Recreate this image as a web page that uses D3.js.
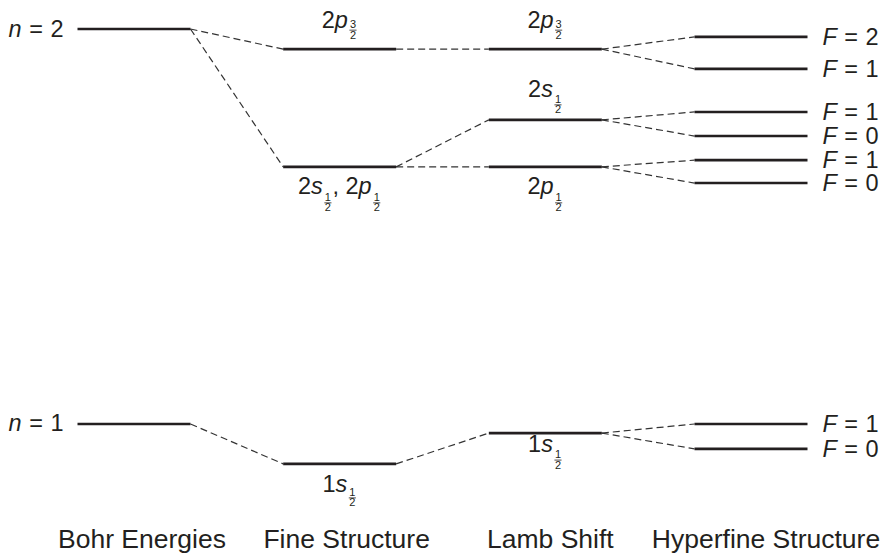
<!DOCTYPE html>
<html><head><meta charset="utf-8">
<script src="https://cdn.jsdelivr.net/npm/d3@7"></script>
<style>
body{margin:0;background:#fff}
svg{display:block}
text{font-family:"Liberation Sans",Arial,Helvetica,sans-serif;fill:#231f20}
</style>
</head><body>
<svg id="chart" width="888" height="557"></svg>
<script>
// ---------- DATA ----------
const columns = ["Bohr Energies", "Fine Structure", "Lamb Shift", "Hyperfine Structure"];
const levelNames = ["n2","n1","f2p32","f2s2p12","f1s","l2p32","l2s12","l2p12","l1s",
                    "hF2a","hF1a","hF1b","hF0b","hF1c","hF0c","hF1d","hF0d"];
const levelColumns = [0,0,1,1,1,2,2,2,2,3,3,3,3,3,3,3,3];
// relative energies (arbitrary units, n=1 Bohr = 0, n=2 Bohr = 100)
const levelEnergies = [100, 0, 94.9, 65.1, -10.1, 94.9, 77.0, 65.1, -2.3,
                       98.0, 89.9, 79.0, 72.9, 66.8, 61.0, 0, -6.3];
const levelLabels = ["n = 2","n = 1","2p_{3/2}","2s_{1/2}, 2p_{1/2}","1s_{1/2}",
                     "2p_{3/2}","2s_{1/2}","2p_{1/2}","1s_{1/2}",
                     "F = 2","F = 1","F = 1","F = 0","F = 1","F = 0","F = 1","F = 0"];
const linkFrom = [0,0,1,2,3,3,4,5,5,6,6,7,7,8,8];
const linkTo   = [2,3,4,5,6,7,8,9,10,11,12,13,14,15,16];

// ---------- LAYOUT ----------
const svg = d3.select("#chart");
const x = d3.scalePoint().domain(columns).range([134, 751]);
const y = d3.scaleLinear().domain([0, 100]).range([424, 29]);
const halfW = 56.5;
const ink = "#231f20";
const stateFont = 23.5, fracFont = 11, colFont = 26.5, opPad = 7.5;
const captionDx = [8, 7, 5, 15];

// label placement: [side, baseline offset, fraction drop]
const placement = {
  n2:["left",8,0], n1:["left",7,0],
  f2p32:["above",-21,0], f2s2p12:["below",27,7], f1s:["below",28,4],
  l2p32:["above",-21,0], l2s12:["above",-23,6], l2p12:["below",27,7], l1s:["below",19,6]
};

// dashed connectors
svg.append("g").selectAll("line").data(linkFrom.map((f,i)=>[f,linkTo[i]])).join("line")
  .attr("x1", d => x(columns[levelColumns[d[0]]]) + halfW)
  .attr("y1", d => y(levelEnergies[d[0]]))
  .attr("x2", d => x(columns[levelColumns[d[1]]]) - halfW)
  .attr("y2", d => y(levelEnergies[d[1]]))
  .attr("stroke", "#333").attr("stroke-width", 1.2).attr("stroke-dasharray", "7,4");

// levels
svg.append("g").selectAll("line").data(levelEnergies).join("line")
  .attr("x1", (d,i) => x(columns[levelColumns[i]]) - halfW)
  .attr("x2", (d,i) => x(columns[levelColumns[i]]) + halfW)
  .attr("y1", d => y(d)).attr("y2", d => y(d))
  .attr("stroke", ink).attr("stroke-width", 2.6);

// rich label parser
function tokenize(s){
  const re = /_\{(\d+)\/(\d+)\}|\s*=\s*|[A-Za-z]|[^A-Za-z_=]+/g;
  const out = []; let m;
  while ((m = re.exec(s)) !== null){
    if (m[1] !== undefined) out.push({type:"frac", num:m[1], den:m[2]});
    else if (m[0].trim() === "=") out.push({type:"op", t:"="});
    else if (/^[A-Za-z]$/.test(m[0])) out.push({type:"it", t:m[0]});
    else out.push({type:"txt", t:m[0].replace(/ /g, "\u00A0")});
  }
  return out;
}
function renderLabel(parent, str, fracDrop){
  const g = parent.append("g");
  let cx = 0;
  tokenize(str).forEach(tk => {
    if (tk.type === "frac"){
      cx += 1.5;
      const n = g.append("text").style("font-size", fracFont+"px").attr("y", fracDrop).text(tk.num);
      const d = g.append("text").style("font-size", fracFont+"px").attr("y", fracDrop+10.5).text(tk.den);
      const wn = n.node().getComputedTextLength(), wd = d.node().getComputedTextLength();
      const w = Math.max(wn, wd) + 1;
      n.attr("x", cx + (w-wn)/2); d.attr("x", cx + (w-wd)/2);
      g.append("line").attr("x1", cx).attr("x2", cx+w)
        .attr("y1", fracDrop+2).attr("y2", fracDrop+2)
        .attr("stroke", ink).attr("stroke-width", 0.8);
      cx += w + 1;
    } else {
      const pad = tk.type === "op" ? opPad : 0;
      cx += pad;
      const t = g.append("text").style("font-size", stateFont+"px").attr("x", cx).text(tk.t);
      if (tk.type === "it") t.style("font-style", "italic");
      cx += t.node().getComputedTextLength() + pad;
    }
  });
  return {g, width: cx};
}

levelLabels.forEach((lab, i) => {
  const name = levelNames[i];
  const p = placement[name] || ["right", 8, 0];
  const lx = x(columns[levelColumns[i]]), ly = y(levelEnergies[i]);
  const r = renderLabel(svg, lab, p[2]);
  let tx;
  if (p[0] === "left") tx = lx - halfW - 14 - r.width;
  else if (p[0] === "right") tx = lx + halfW + 15;
  else tx = lx - r.width/2;
  r.g.attr("transform", `translate(${tx},${ly + p[1]})`);
});

// column captions
svg.append("g").selectAll("text").data(columns).join("text")
  .attr("x", (d,i) => x(d) + captionDx[i]).attr("y", 548)
  .attr("text-anchor", "middle").style("font-size", colFont+"px")
  .text(d => d);
</script>
</body></html>
